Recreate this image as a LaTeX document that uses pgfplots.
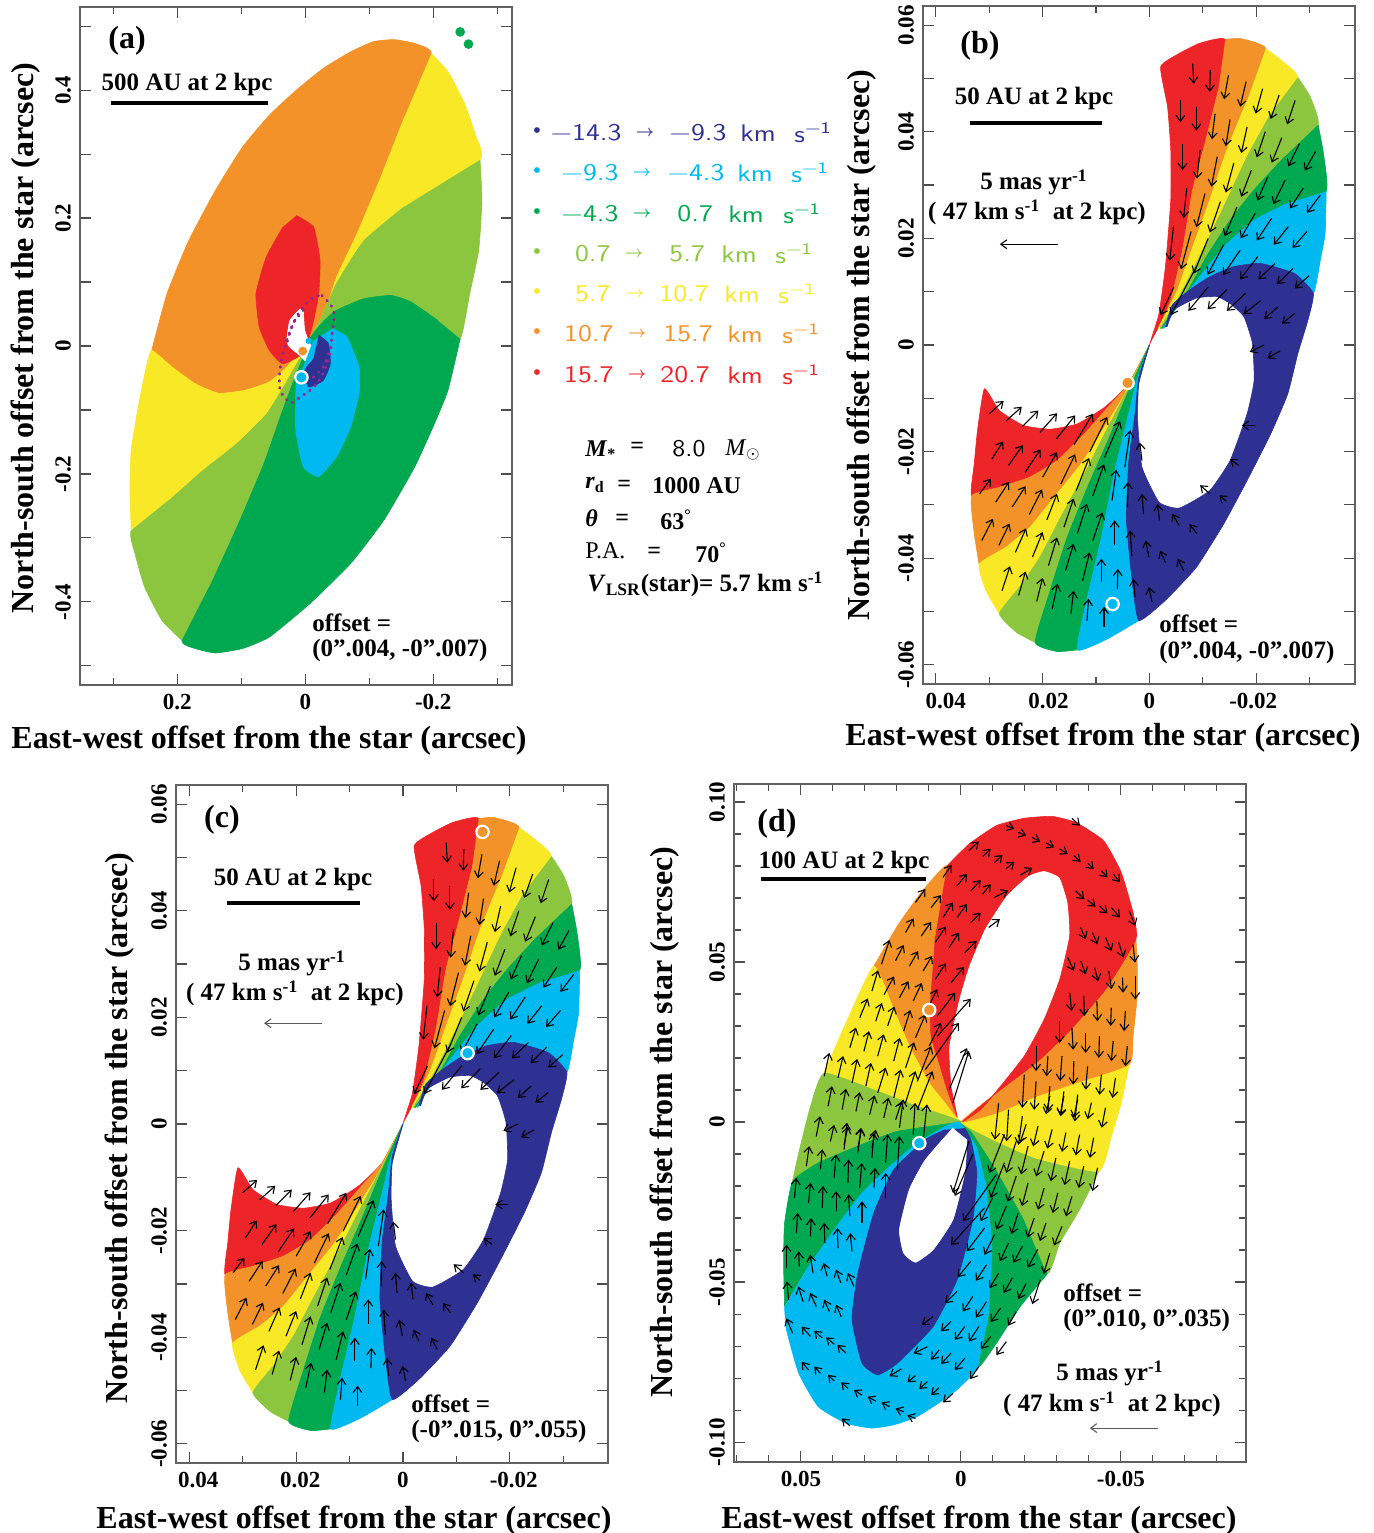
\documentclass[border=0pt]{standalone}
\usepackage{fontspec}
\setmainfont{Liberation Serif}
\usepackage{pgfplots}
\usepackage{pgfplotstable}
\pgfplotsset{compat=1.18}
\usetikzlibrary{arrows.meta}
\definecolor{cR}{HTML}{ED2528}
\definecolor{cO}{HTML}{F39229}
\definecolor{cY}{HTML}{F9E825}
\definecolor{cL}{HTML}{8CC63F}
\definecolor{cG}{HTML}{00A94F}
\definecolor{cB}{HTML}{00B9F1}
\definecolor{cN}{HTML}{2E3192}
\definecolor{cP}{HTML}{92278F}
% ---------- panel (a)
\pgfplotstableread{
.240 -.007
.216 .082
.182 .165
.140 .244
.098 .311
.056 .361
.014 .400
-.028 .434
-.071 .460
-.107 .476
-.139 .479
-.171 .473
-.197 .457
-.155 .358
-.118 .264
-.081 .176
-.049 .108
-.028 .045
-.006 .01
.029 -.033
.056 -.056
.093 -.069
.135 -.074
.172 -.059
.208 -.033
}\aO
\pgfplotstableread{
-.197 .457
-.223 .429
-.249 .379
-.265 .332
-.273 .291
-.155 .218
-.092 .165
-.049 .098
-.023 .04
-.006 .01
-.028 .045
-.049 .108
-.081 .176
-.118 .264
-.155 .358
}\aYt
\pgfplotstableread{
-.273 .291
-.276 .228
-.271 .150
-.257 .082
-.242 .011
-.207 .04
-.165 .069
-.134 .079
-.092 .074
-.049 .056
-.028 .038
-.006 .01
-.023 .04
-.049 .098
-.092 .165
-.155 .218
}\aLt
\pgfplotstableread{
-.242 .011
-.223 -.069
-.202 -.121
-.171 -.189
-.123 -.272
-.071 -.340
-.007 -.403
.056 -.455
.098 -.473
.140 -.480
.172 -.473
.193 -.460
.151 -.377
.108 -.283
.066 -.184
.040 -.110
.019 -.053
-.006 .01
-.028 .038
-.049 .056
-.092 .074
-.134 .079
-.165 .069
-.207 .04
}\aG
\pgfplotstableread{
.193 -.460
.224 -.429
.251 -.377
.266 -.325
.272 -.288
.214 -.241
.161 -.194
.108 -.152
.061 -.105
.029 -.053
-.006 .01
.019 -.053
.040 -.110
.066 -.184
.108 -.283
.151 -.377
}\aLb
\pgfplotstableread{
.272 -.288
.274 -.225
.272 -.163
.261 -.095
.250 -.04
.240 -.007
.208 -.033
.172 -.059
.135 -.074
.093 -.069
.056 -.056
.029 -.033
-.006 .01
.029 -.053
.061 -.105
.108 -.152
.161 -.194
.214 -.241
}\aYb
\pgfplotstableread{
.014 .204
-.013 .186
-.023 .134
-.021 .082
-.013 .040
-.005 .009
.003 -.012
.035 -.028
.056 -.007
.072 .030
.077 .082
.061 .139
.035 .186
}\aR
\pgfplotstableread{
.008 .058
.024 .040
.029 .009
.024 -.002
.008 -.015
-.005 -.028
-.016 -.007
-.007 .004
.001 .025
.003 .056
}\aW
\pgfplotstableread{
-.042 .027
-.065 .014
-.084 -.033
-.084 -.074
-.071 -.126
-.049 -.173
-.021 -.204
.003 -.189
.015 -.131
.014 -.053
.003 -.033
-.013 .009
}\aB
\pgfplotstableread{
-.021 .017
-.036 .004
-.039 -.028
-.028 -.054
-.005 -.064
.001 -.038
-.013 -.020
-.017 -.002
}\aN
\pgfplotstableread{
-.026 .079
-.044 .056
-.042 .019
-.036 -.022
-.018 -.059
.008 -.080
.024 -.088
.040 -.064
.035 -.012
.014 .045
-.010 .074
-.026 .079
}\aDa
% ---------- crescent of panels (b) and (c)
\pgfplotstableread{
0 0
-.0005 .0016
-.0018 .0059
-.0030 .0147
-.0040 .0272
-.0040 .0366
-.0034 .0447
-.0021 .0522
-.0056 .0547
-.0094 .0566
-.0142 .0573
-.0129 .0478
-.0104 .0378
-.0081 .0291
-.0062 .0178
-.0040 .0084
-.0018 .0034
}\bRt
\pgfplotstableread{
-.0142 .0573
-.0170 .0575
-.0218 .0556
-.0183 .0459
-.0145 .0366
-.0113 .0272
-.0081 .0184
-.0050 .0097
-.0018 .0034
-.0040 .0084
-.0062 .0178
-.0081 .0291
-.0104 .0378
-.0129 .0478
}\bOt
\pgfplotstableread{
-.0218 .0556
-.0247 .0534
-.0278 .0502
-.0227 .0434
-.0183 .0353
-.0139 .0259
-.0094 .0166
-.0056 .0091
-.0021 .0034
-.0018 .0034
-.0050 .0097
-.0081 .0184
-.0113 .0272
-.0145 .0366
-.0183 .0459
}\bYt
\pgfplotstableread{
-.0278 .0502
-.0301 .0466
-.0316 .0413
-.0253 .0353
-.0196 .0291
-.0151 .0234
-.0107 .0166
-.0069 .0097
-.0024 .0034
-.0021 .0034
-.0056 .0091
-.0094 .0166
-.0139 .0259
-.0183 .0353
-.0227 .0434
}\bLt
\pgfplotstableread{
-.0316 .0413
-.0326 .0359
-.0331 .0288
-.0259 .0266
-.0196 .0234
-.0139 .0184
-.0094 .0128
-.0056 .0078
-.0027 .0034
-.0024 .0034
-.0069 .0097
-.0107 .0166
-.0151 .0234
-.0196 .0291
-.0253 .0353
}\bGt
\pgfplotstableread{
-.0331 .0288
-.0329 .0209
-.0320 .0159
-.0307 .0097
-.0272 .0134
-.0208 .0153
-.0158 .0147
-.0113 .0128
-.0075 .0103
-.0043 .0075
-.0030 .0034
-.0027 .0034
-.0056 .0078
-.0094 .0128
-.0139 .0184
-.0196 .0234
-.0259 .0266
}\bBt
\pgfplotstableread{
-.0030 .0034
-.0043 .0075
-.0075 .0103
-.0113 .0128
-.0158 .0147
-.0208 .0153
-.0272 .0134
-.0307 .0097
-.0297 .0047
-.0278 -.0016
-.0259 -.0092
-.0227 -.0167
-.0183 -.0254
-.0139 -.0336
-.0088 -.0417
-.0030 -.0479
.0020 -.0517
.0033 -.0436
.0043 -.0329
.0039 -.0223
.0027 -.0129
.0020 -.0061
0 0
.0020 -.0073
.0022 -.0142
.0014 -.0229
-.0018 -.0295
-.0056 -.0306
-.0113 -.0273
-.0151 -.0217
-.0183 -.0129
-.0196 -.0067
-.0193 .0003
-.0177 .0053
-.0151 .0078
-.0126 .0091
-.0088 .0088
-.0046 .0066
-.0033 .0034
}\bN
\pgfplotstableread{
.0020 -.0517
.0078 -.0551
.0135 -.0572
.0116 -.0473
.0090 -.0361
.0065 -.0236
.0039 -.0129
.0024 -.0067
0 0
.0020 -.0061
.0027 -.0129
.0039 -.0223
.0043 -.0329
.0033 -.0436
}\bBb
\pgfplotstableread{
.0135 -.0572
.0173 -.0575
.0214 -.0558
.0186 -.0461
.0154 -.0361
.0116 -.0267
.0078 -.0180
.0039 -.0086
0 0
.0024 -.0067
.0039 -.0129
.0065 -.0236
.0090 -.0361
.0116 -.0473
}\bGb
\pgfplotstableread{
.0214 -.0558
.0249 -.0539
.0281 -.0504
.0243 -.0454
.0205 -.0398
.0166 -.0323
.0122 -.0242
.0084 -.0167
.0039 -.0080
0 0
.0039 -.0086
.0078 -.0180
.0116 -.0267
.0154 -.0361
.0186 -.0461
}\bLb
\pgfplotstableread{
.0281 -.0504
.0306 -.0461
.0319 -.0411
.0268 -.0379
.0224 -.0342
.0173 -.0279
.0128 -.0223
.0084 -.0154
.0046 -.0092
0 0
.0039 -.0080
.0084 -.0167
.0122 -.0242
.0166 -.0323
.0205 -.0398
.0243 -.0454
}\bYb
\pgfplotstableread{
.0319 -.0411
.0328 -.0354
.0333 -.0283
.0281 -.0267
.0224 -.0248
.0173 -.0217
.0122 -.0167
.0078 -.0117
.0039 -.0073
0 0
.0046 -.0092
.0084 -.0154
.0128 -.0223
.0173 -.0279
.0224 -.0342
.0268 -.0379
}\bOb
\pgfplotstableread{
0 0
.0039 -.0073
.0084 -.0117
.0135 -.0148
.0186 -.0158
.0236 -.0151
.0281 -.0123
.0309 -.0082
.0322 -.0161
.0328 -.0223
.0333 -.0283
.0281 -.0267
.0224 -.0248
.0173 -.0217
.0122 -.0167
.0078 -.0117
.0039 -.0073
}\bRb
\pgfplotstableread{
x y u v
-.0081 .0528 -.0002 -.0038
-.0114 .0516 .0001 -.0041
-.0148 .0506 .0008 -.0045
-.0181 .0494 .0011 -.0047
-.0212 .0481 .0013 -.0047
-.0243 .0469 .0016 -.0045
-.0273 .0459 .0015 -.0045
-.0058 .0459 0 -.0041
-.0088 .0447 0 -.0045
-.0123 .0434 .0006 -.0048
-.0151 .0423 .0008 -.0050
-.0183 .0409 .0011 -.0049
-.0217 .0400 .0016 -.0048
-.0248 .0389 .0019 -.0047
-.0281 .0378 .0021 -.0043
-.0311 .0363 .0020 -.0036
-.0062 .0378 0 -.0050
-.0095 .0366 .0006 -.0054
-.0127 .0353 .0011 -.0056
-.0158 .0341 .0015 -.0055
-.0191 .0328 .0019 -.0050
-.0222 .0316 .0020 -.0045
-.0254 .0309 .0022 -.0045
-.0288 .0294 .0025 -.0038
-.0320 .0281 .0025 -.0033
-.0070 .0294 .0006 -.0056
-.0104 .0284 .0016 -.0063
-.0133 .0269 .0020 -.0058
-.0164 .0259 .0023 -.0055
-.0198 .0247 .0027 -.0047
-.0229 .0238 .0028 -.0042
-.0260 .0222 .0027 -.0034
-.0295 .0213 .0027 -.0031
-.0045 .0222 .0007 -.0064
-.0078 .0213 .0019 -.0071
-.0110 .0200 .0027 -.0066
-.0139 .0188 .0030 -.0056
-.0170 .0178 .0032 -.0047
-.0203 .0166 .0033 -.0043
-.0235 .0153 .0031 -.0030
-.0269 .0144 .0030 -.0030
-.0299 .0130 .0027 -.0024
-.0088 .0147 .0048 -.0091
-.0110 .0109 .0037 -.0045
-.0145 .0104 .0036 -.0037
-.0180 .0097 .0035 -.0033
-.0208 .0083 .0032 -.0025
-.0240 .0071 .0025 -.0022
-.0272 .0059 .0024 -.0019
-.0215 0 .0027 -.0013
-.0245 -.0011 .0024 -.0014
-.0046 .0109 .0025 -.0053
.0300 -.0129 -.0027 .0024
.0268 -.0142 -.0029 .0026
.0238 -.0153 -.0030 .0030
.0205 -.0164 -.0032 .0036
.0174 -.0176 -.0035 .0044
.0141 -.0187 -.0035 .0058
.0112 -.0201 -.0033 .0066
.0084 -.0211 -.0029 .0068
.0046 -.0229 -.0010 .0069
.0014 -.0217 .0004 .0034
.0295 -.0214 -.0021 .0033
.0264 -.0226 -.0027 .0038
.0233 -.0239 -.0029 .0043
.0200 -.0248 -.0027 .0047
.0166 -.0261 -.0027 .0056
.0137 -.0273 -.0024 .0061
.0106 -.0283 -.0021 .0059
.0070 -.0292 -.0008 .0058
.0041 -.0304 -.0001 .0047
.0011 -.0317 .0003 .0038
-.0019 -.0329 .0004 .0031
-.0056 -.0339 .0013 .0022
-.0089 -.0354 .0014 .0018
-.0113 -.0279 .0018 .0016
-.0144 -.0293 .0013 .0011
.0318 -.0279 -.0021 .0028
.0288 -.0295 -.0025 .0038
.0257 -.0304 -.0025 .0039
.0225 -.0318 -.0024 .0047
.0192 -.0328 -.0019 .0049
.0160 -.0342 -.0018 .0054
.0135 -.0354 -.0018 .0056
.0106 -.0367 -.0018 .0053
.0065 -.0376 0 .0047
.0033 -.0395 .0003 .0047
.0001 -.0398 .0006 .0031
-.0030 -.0408 .0010 .0022
-.0064 -.0423 .0011 .0022
.0314 -.0367 -.0021 .0041
.0282 -.0376 -.0020 .0041
.0251 -.0389 -.0020 .0045
.0219 -.0398 -.0019 .0047
.0189 -.0414 -.0016 .0053
.0157 -.0423 -.0015 .0050
.0125 -.0442 -.0013 .0053
.0090 -.0445 0 .0044
.0060 -.0458 -.0001 .0038
.0027 -.0473 .0003 .0034
-.0005 -.0482 .0006 .0028
.0276 -.0461 -.0015 .0046
.0245 -.0470 -.0013 .0045
.0211 -.0481 -.0011 .0044
.0182 -.0495 -.0010 .0047
.0147 -.0504 -.0005 .0043
.0117 -.0517 -.0003 .0041
.0085 -.0529 0 .0038
-.0197 -.0151 .0024 0
-.0167 -.0226 .0016 .0012
}\bA
% ---------- panel (d)
\pgfplotstableread{
.0043 .0801
-.0025 .0868
-.0111 .0926
-.0198 .0949
-.0285 .0955
-.0359 .0936
-.0446 .0879
-.0501 .0780
-.0538 .0654
-.0547 .0571
-.0452 .0414
-.0334 .0279
-.0235 .0185
-.0111 .0091
-.0006 .0002
-.0062 .0039
-.0124 .0112
-.0198 .0206
-.0260 .0320
-.0309 .0446
-.0340 .0581
-.0334 .0686
-.0309 .0764
-.0260 .0785
-.0210 .0769
-.0142 .0707
-.0074 .0602
-.0025 .0487
.0006 .0383
.0037 .0237
.0031 .0112
.0012 .0018
.0043 .0101
.0068 .0185
.0093 .0268
.0095 .0373
.0087 .0477
.0080 .0581
}\dR
\pgfplotstableread{
.0272 .0487
.0198 .0613
.0124 .0717
.0043 .0801
.0080 .0581
.0087 .0477
.0095 .0373
.0093 .0268
.0068 .0185
.0043 .0101
.0012 .0018
.0019 .0018
.0050 .0060
.0099 .0122
.0161 .0237
.0210 .0352
}\dOl
\pgfplotstableread{
.0427 .0153
.0359 .0310
.0272 .0487
.0210 .0352
.0161 .0237
.0099 .0122
.0050 .0060
.0019 .0018
0 0
.0136 .0049
.0260 .0096
}\dYl
\pgfplotstableread{
.0526 -.0185
.0507 -.0097
.0470 .0049
.0427 .0153
.0260 .0096
.0136 .0049
0 0
.0198 -.0029
.0322 -.0075
.0446 -.0128
}\dLl
\pgfplotstableread{
.0551 -.0576
.0554 -.0441
.0551 -.0316
.0526 -.0185
.0446 -.0128
.0322 -.0075
.0198 -.0029
0 0
.0050 -.0014
.0136 -.0066
.0210 -.0128
.0309 -.0222
.0396 -.0337
.0483 -.0462
}\dGl
\pgfplotstableread{
.0551 -.0576
.0545 -.0649
.0507 -.0784
.0446 -.0889
.0359 -.0941
.0278 -.0956
.0210 -.0946
.0136 -.0920
.0025 -.0847
-.0056 -.0764
-.0087 -.0607
-.0099 -.0389
-.0080 -.0201
-.0050 -.0076
0 0
.0050 -.0014
.0136 -.0066
.0210 -.0128
.0309 -.0222
.0396 -.0337
.0483 -.0462
}\dB
\pgfplotstableread{
-.0272 -.0472
-.0186 -.0576
-.0111 -.0691
-.0056 -.0764
-.0087 -.0607
-.0099 -.0389
-.0080 -.0201
-.0050 -.0076
0 0
-.0037 -.0034
-.0111 -.0149
-.0198 -.0305
}\dGr
\pgfplotstableread{
-.0431 -.0154
-.0371 -.0274
-.0309 -.0378
-.0272 -.0472
-.0198 -.0305
-.0111 -.0149
-.0037 -.0034
0 0
-.0111 -.0060
-.0235 -.0113
}\dLr
\pgfplotstableread{
-.0526 .0180
-.0501 .0059
-.0470 -.0045
-.0431 -.0154
-.0235 -.0113
-.0111 -.0060
0 0
-.0111 .0028
-.0235 .0080
-.0359 .0122
}\dYr
\pgfplotstableread{
-.0547 .0571
-.0551 .0498
-.0551 .0394
-.0538 .0268
-.0526 .0180
-.0359 .0122
-.0235 .0080
-.0111 .0028
0 0
-.0111 .0091
-.0235 .0185
-.0334 .0279
-.0452 .0414
}\dOr
\pgfplotstableread{
.0050 -.0024
.0111 -.0055
.0210 -.0149
.0272 -.0284
.0322 -.0472
.0340 -.0618
.0309 -.0753
.0260 -.0790
.0198 -.0753
.0087 -.0639
.0012 -.0493
-.0037 -.0305
-.0050 -.0159
-.0031 -.0055
-.0012 -.0019
}\dN
\pgfplotstableread{
.0025 -.0019
.0111 -.0118
.0161 -.0211
.0192 -.0336
.0179 -.0409
.0142 -.0438
.0087 -.0399
.0025 -.0305
-.0012 -.0159
-.0019 -.0055
}\dW
\pgfplotstableread{
x y u v
-.0142 .0926 -.0025 -.0010
-.0179 .0905 -.0025 -.0010
-.0223 .0889 -.0025 -.0013
-.0266 .0872 -.0025 -.0014
-.0309 .0853 -.0025 -.0016
-.0353 .0832 -.0021 -.0019
-.0396 .0809 -.0019 -.0019
-.0439 .0785 -.0019 -.0021
-.0476 .0775 -.0021 -.0026
-.0347 .0949 -.0025 -.0023
-.0025 .0848 -.0031 .0028
-.0068 .0830 -.0025 .0023
-.0105 .0811 -.0025 .0023
-.0142 .0792 -.0025 .0021
-.0186 .0771 -.0037 .0023
.0056 .0764 -.0027 .0039
.0012 .0738 -.0031 .0037
-.0031 .0722 -.0031 .0034
-.0068 .0712 -.0025 .0031
-.0105 .0702 -.0043 .0021
.0142 .0686 -.0031 .0042
.0093 .0670 -.0031 .0039
.0056 .0639 -.0031 .0047
.0012 .0639 -.0031 .0042
-.0031 .0623 -.0031 .0031
-.0087 .0608 -.0035 .0026
.0173 .0592 -.0025 .0044
.0124 .0581 -.0031 .0044
.0080 .0561 -.0033 .0050
.0037 .0545 -.0031 .0047
-.0012 .0529 -.0037 .0037
.0248 .0493 -.0025 .0076
.0204 .0504 -.0025 .0049
.0161 .0487 -.0027 .0047
.0118 .0472 -.0028 .0047
.0080 .0446 -.0033 .0050
.0031 .0435 -.0041 .0050
.0278 .0409 -.0019 .0065
.0240 .0398 -.0031 .0057
.0192 .0388 -.0028 .0052
.0149 .0378 -.0027 .0057
.0105 .0352 -.0031 .0063
.0074 .0331 -.0056 .0073
.0316 .0326 -.0025 .0060
.0266 .0315 -.0019 .0057
.0229 .0300 -.0021 .0061
.0179 .0284 -.0021 .0066
.0142 .0263 -.0031 .0073
.0099 .0237 -.0037 .0073
.0074 .0268 -.0105 .0117
.0111 .0164 -.0105 .0146
.0037 .0101 -.0056 .0130
.0025 .0060 -.0050 .0162
.0347 .0232 -.0019 .0063
.0303 .0221 -.0016 .0063
.0260 .0206 -.0019 .0068
.0210 .0190 -.0019 .0073
.0173 .0169 -.0027 .0080
.0136 .0127 -.0043 .0110
.0427 .0143 -.0016 .0073
.0384 .0138 -.0016 .0068
.0340 .0122 -.0016 .0075
.0297 .0112 -.0016 .0073
.0260 .0091 -.0025 .0079
.0210 .0075 -.0022 .0089
.0173 .0060 -.0031 .0099
.0136 .0039 -.0047 .0120
.0415 .0049 -.0012 .0063
.0371 .0039 -.0012 .0065
.0328 .0033 -.0012 .0060
.0285 .0023 -.0015 .0060
.0241 .0013 -.0015 .0063
.0204 .0007 -.0019 .0057
.0452 -.0045 -.0012 .0063
.0408 -.0061 -.0012 .0052
.0365 -.0071 -.0012 .0057
.0322 -.0081 -.0012 .0060
.0278 -.0081 -.0012 .0057
-.0359 .0722 -.0027 -.0026
-.0396 .0694 -.0025 -.0021
-.0433 .0675 -.0025 -.0023
-.0470 .0670 -.0027 -.0031
-.0526 .0660 -.0019 -.0047
-.0374 .0608 -.0016 -.0037
-.0411 .0592 -.0016 -.0037
-.0452 .0576 -.0019 -.0042
-.0493 .0561 -.0015 -.0047
-.0538 .0555 -.0006 -.0057
-.0334 .0514 -.0019 -.0042
-.0375 .0503 -.0015 -.0042
-.0418 .0482 -.0011 -.0042
-.0462 .0472 -.0009 -.0057
-.0505 .0451 -.0002 -.0047
-.0545 .0456 0 -.0073
-.0340 .0404 -.0006 -.0057
-.0384 .0394 -.0002 -.0063
-.0425 .0378 -.0002 -.0063
-.0470 .0357 .0002 -.0057
-.0514 .0347 .0004 -.0063
-.0309 .0315 0 -.0068
-.0347 .0294 -.0004 -.0068
-.0390 .0279 0 -.0063
-.0433 .0268 .0002 -.0068
-.0476 .0253 .0006 -.0063
-.0520 .0237 .0006 -.0063
-.0235 .0237 0 -.0078
-.0272 .0206 .0004 -.0063
-.0316 .0206 .0006 -.0078
-.0353 .0190 .0002 -.0073
-.0396 .0174 .0006 -.0073
-.0439 .0148 .0006 -.0063
-.0483 .0138 .0009 -.0063
-.0198 .0148 .0006 -.0104
-.0235 .0127 .0006 -.0089
-.0278 .0112 .0006 -.0078
-.0322 .0096 .0010 -.0078
-.0365 .0086 .0009 -.0084
-.0118 .0060 .0012 -.0115
-.0149 .0039 .0006 -.0099
-.0192 .0018 .0012 -.0089
.0142 -.0926 .0025 .0010
.0179 -.0905 .0025 .0010
.0223 -.0889 .0025 .0013
.0266 -.0872 .0025 .0014
.0309 -.0853 .0025 .0016
.0353 -.0832 .0021 .0019
.0396 -.0809 .0019 .0019
.0439 -.0785 .0019 .0021
.0476 -.0775 .0021 .0026
.0347 -.0949 .0025 .0023
.0025 -.0848 .0031 -.0028
.0068 -.0830 .0025 -.0023
.0105 -.0811 .0025 -.0023
.0142 -.0792 .0025 -.0021
.0186 -.0771 .0037 -.0023
-.0056 -.0764 .0027 -.0039
-.0012 -.0738 .0031 -.0037
.0031 -.0722 .0031 -.0034
.0068 -.0712 .0025 -.0031
.0105 -.0702 .0043 -.0021
-.0142 -.0686 .0031 -.0042
-.0093 -.0670 .0031 -.0039
-.0056 -.0639 .0031 -.0047
-.0012 -.0639 .0031 -.0042
.0031 -.0623 .0031 -.0031
.0087 -.0608 .0035 -.0026
-.0173 -.0592 .0025 -.0044
-.0124 -.0581 .0031 -.0044
-.0080 -.0561 .0033 -.0050
-.0037 -.0545 .0031 -.0047
.0012 -.0529 .0037 -.0037
-.0248 -.0493 .0025 -.0076
-.0204 -.0504 .0025 -.0049
-.0161 -.0487 .0027 -.0047
-.0118 -.0472 .0028 -.0047
-.0080 -.0446 .0033 -.0050
-.0031 -.0435 .0041 -.0050
-.0278 -.0409 .0019 -.0065
-.0240 -.0398 .0031 -.0057
-.0192 -.0388 .0028 -.0052
-.0149 -.0378 .0027 -.0057
-.0105 -.0352 .0031 -.0063
-.0074 -.0331 .0056 -.0073
-.0316 -.0326 .0025 -.0060
-.0266 -.0315 .0019 -.0057
-.0229 -.0300 .0021 -.0061
-.0179 -.0284 .0021 -.0066
-.0142 -.0263 .0031 -.0073
-.0099 -.0237 .0037 -.0073
-.0074 -.0268 .0105 -.0117
-.0111 -.0164 .0105 -.0146
-.0037 -.0101 .0056 -.0130
-.0025 -.0060 .0050 -.0162
-.0347 -.0232 .0019 -.0063
-.0303 -.0221 .0016 -.0063
-.0260 -.0206 .0019 -.0068
-.0210 -.0190 .0019 -.0073
-.0173 -.0169 .0027 -.0080
-.0136 -.0127 .0043 -.0110
-.0427 -.0143 .0016 -.0073
-.0384 -.0138 .0016 -.0068
-.0340 -.0122 .0016 -.0075
-.0297 -.0112 .0016 -.0073
-.0260 -.0091 .0025 -.0079
-.0210 -.0075 .0022 -.0089
-.0173 -.0060 .0031 -.0099
-.0136 -.0039 .0047 -.0120
-.0415 -.0049 .0012 -.0063
-.0371 -.0039 .0012 -.0065
-.0328 -.0033 .0012 -.0060
-.0285 -.0023 .0015 -.0060
-.0241 -.0013 .0015 -.0063
-.0204 -.0007 .0019 -.0057
-.0452 .0045 .0012 -.0063
-.0408 .0061 .0012 -.0052
-.0365 .0071 .0012 -.0057
-.0322 .0081 .0012 -.0060
-.0278 .0081 .0012 -.0057
.0359 -.0722 .0027 .0026
.0396 -.0694 .0025 .0021
.0433 -.0675 .0025 .0023
.0470 -.0670 .0027 .0031
.0526 -.0660 .0019 .0047
.0374 -.0608 .0016 .0037
.0411 -.0592 .0016 .0037
.0452 -.0576 .0019 .0042
.0493 -.0561 .0015 .0047
.0538 -.0555 .0006 .0057
.0334 -.0514 .0019 .0042
.0375 -.0503 .0015 .0042
.0418 -.0482 .0011 .0042
.0462 -.0472 .0009 .0057
.0505 -.0451 .0002 .0047
.0545 -.0456 0 .0073
.0340 -.0404 .0006 .0057
.0384 -.0394 .0002 .0063
.0425 -.0378 .0002 .0063
.0470 -.0357 -.0002 .0057
.0514 -.0347 -.0004 .0063
.0309 -.0315 0 .0068
.0347 -.0294 .0004 .0068
.0390 -.0279 0 .0063
.0433 -.0268 -.0002 .0068
.0476 -.0253 -.0006 .0063
.0520 -.0237 -.0006 .0063
.0235 -.0237 0 .0078
.0272 -.0206 -.0004 .0063
.0316 -.0206 -.0006 .0078
.0353 -.0190 -.0002 .0073
.0396 -.0174 -.0006 .0073
.0439 -.0148 -.0006 .0063
.0483 -.0138 -.0009 .0063
.0198 -.0148 -.0006 .0104
.0235 -.0127 -.0006 .0089
.0278 -.0112 -.0006 .0078
.0322 -.0096 -.0010 .0078
.0365 -.0086 -.0009 .0084
.0118 -.0060 -.0012 .0115
.0149 -.0039 -.0006 .0099
.0192 -.0018 -.0012 .0089
}\dA
\pgfplotsset{
 panel/.style={scale only axis,x dir=reverse,tick align=inside,clip=false,scaled ticks=false,
  axis line style={draw=black!62,line width=.9pt},
  tick style={black!70,line width=.6pt},
  major tick length=5.5pt,minor tick length=3.6pt,
  tick label style={font=\fontsize{11.5}{12}\bfseries\selectfont},
  y tick label style={rotate=90,anchor=south},
  xticklabel shift=1pt,yticklabel shift=1pt,
  label style={font=\fontsize{16}{18}\bfseries\selectfont},
  xlabel={East-west offset from the star (arcsec)},
  ylabel={North-south offset from the star (arcsec)}},
 pg/.style={fill=#1,draw=#1,line width=.3pt,forget plot,smooth,tension=.28},
 qv/.style={quiver={u=\thisrow{u},v=\thisrow{v}},black,line width=.55pt,
   -{Straight Barb[length=3pt,width=4.4pt]},forget plot},
 ring/.style={only marks,mark=*,mark size=3.1pt,mark options={fill=#1,draw=white,line width=1.1pt},forget plot},
 dots/.style={cP,line width=1.5pt,line cap=round,dash pattern=on .3pt off 3.2pt,forget plot,smooth,tension=.6},
}
\newcommand{\crescent}{%
 \addplot[pg=cR] table {\bRt};
 \addplot[pg=cO] table {\bOt};
 \addplot[pg=cY] table {\bYt};
 \addplot[pg=cL] table {\bLt};
 \addplot[pg=cG] table {\bGt};
 \addplot[pg=cB] table {\bBt};
 \addplot[pg=cR] table {\bRb};
 \addplot[pg=cO] table {\bOb};
 \addplot[pg=cY] table {\bYb};
 \addplot[pg=cL] table {\bLb};
 \addplot[pg=cG] table {\bGb};
 \addplot[pg=cB] table {\bBb};
 \addplot[pg=cN] table {\bN};
 \addplot[qv] table[x=x,y=y] {\bA};
}
\newcommand{\T}[5]{\node[anchor=#1,inner sep=0pt] at (#2,{1533-#3-1.5}) {\fontsize{#4}{#4}\bfseries\selectfont #5};}
\newcommand{\Lg}[9]{%
 \node[anchor=center,text=#2] at (537,{1533-#1-1}) {\fontsize{12}{12}\selectfont\textbullet};
 \node[anchor=east,inner sep=0pt,xscale=1.18,text=#2] at (#4,{1533-#1-1}) {\fontsize{12}{12}\sffamily\selectfont #3};
 \node[anchor=center,inner sep=0pt,text=#2] at (#5,{1533-#1-1}) {\scalebox{.8}{\boldmath$\rightarrow$}};
 \node[anchor=west,inner sep=0pt,xscale=1.18,text=#2] at (#6,{1533-#1-1}) {\fontsize{12}{12}\sffamily\selectfont #7};
 \node[anchor=west,inner sep=0pt,xscale=1.18,text=#2] at (#8,{1533-#1-1}) {\fontsize{12}{12}\sffamily\selectfont km};
 \node[anchor=west,inner sep=0pt,xscale=1.18,text=#2] at (#9,{1533-#1-1}) {\fontsize{12}{12}\sffamily\selectfont s\textsuperscript{\textminus 1}};
}
\begin{document}
\begin{tikzpicture}[x=0.5pt,y=0.5pt]
\useasboundingbox (0,0) rectangle (1373,1533);
% (a)
\begin{axis}[panel,at={(40pt,424pt)},anchor=south west,width=216pt,height=339pt,
 xmin=-.323,xmax=.352,ymin=-.53,ymax=.53,
 xtick={-.2,0,.2},xticklabels={-0.2,0,0.2},minor xtick={-.3,-.1,.1,.3},
 ytick={-.5,-.4,-.3,-.2,-.1,0,.1,.2,.3,.4,.5},yticklabels={,-0.4,,-0.2,,0,,0.2,,0.4,},
 x label style={at={(axis description cs:.4375,-.0827)},anchor=center},
 y label style={at={(axis description cs:-.1250,.512)},anchor=center}]
\addplot[pg=cO] table {\aO};
\addplot[pg=cY] table {\aYt};
\addplot[pg=cL] table {\aLt};
\addplot[pg=cG] table {\aG};
\addplot[pg=cL] table {\aLb};
\addplot[pg=cY] table {\aYb};
\addplot[pg=cR] table {\aR};
\addplot[pg=white] table {\aW};
\addplot[pg=cB] table {\aB};
\addplot[pg=cN] table {\aN};
\addplot[dots] table {\aDa};
\addplot[dots] coordinates {(.003,.056) (.019,.035) (.029,.004)};
\addplot[dots] coordinates {(-.036,-.012) (-.028,-.033) (-.010,-.051)};
\addplot[only marks,mark=*,mark size=2pt,cO,forget plot] coordinates {(.004,-.008)};
\addplot[only marks,mark=*,mark size=1.3pt,cB,forget plot] coordinates {(-.005,.008)};
\addplot[ring=cB] coordinates {(.006,-.049)};
\addplot[only marks,mark=*,mark size=2.2pt,cG,forget plot] coordinates {(-.242,.491) (-.255,.472)};
\addplot[black,line width=2.4pt,forget plot] coordinates {(.303,.380) (.058,.380)};
\end{axis}
% (b)
\begin{axis}[panel,at={(461.5pt,424.5pt)},anchor=south west,width=216pt,height=339pt,
 xmin=-.0385,xmax=.0424,ymin=-.0636,ymax=.0636,
 xtick={-.02,0,.02,.04},xticklabels={{-0.02\hspace*{3pt}},0,{\hspace*{6pt}0.02},{\hspace*{10pt}0.04}},minor xtick={-.03,-.01,.01,.03},
 ytick={-.06,-.05,-.04,-.03,-.02,-.01,0,.01,.02,.03,.04,.05,.06},yticklabels={-0.06,,-0.04,,-0.02,,0,,0.02,,0.04,,0.06},
 x label style={at={(axis description cs:.4167,-.0797)},anchor=center},
 y label style={at={(axis description cs:-.1412,.5)},anchor=center}]
\crescent
\addplot[ring=cO] coordinates {(.0041,-.0071)};
\addplot[ring=cB] coordinates {(.0069,-.0486)};
\addplot[black,line width=2.2pt,forget plot] coordinates {(.0336,.0417) (.0089,.0417)};
\addplot[qv] table[x=x,y=y] {
x y u v
.0171 .0189 .0109 0
};
\end{axis}
% (c)
\begin{axis}[panel,at={(88pt,35pt)},anchor=south west,width=216pt,height=339pt,
 xmin=-.0384,xmax=.0425,ymin=-.0636,ymax=.0636,
 xtick={-.02,0,.02,.04},xticklabels={{\hspace*{4pt}-0.02},0,{\hspace*{4pt}0.02},{\hspace*{9pt}0.04}},minor xtick={-.03,-.01,.01,.03},
 ytick={-.06,-.05,-.04,-.03,-.02,-.01,0,.01,.02,.03,.04,.05,.06},yticklabels={-0.06,,-0.04,,-0.02,,0,,0.02,,0.04,,0.06},
 x label style={at={(axis description cs:.412,-.0856)},anchor=center},
 y label style={at={(axis description cs:-.1294,.494)},anchor=center}]
\crescent
\addplot[ring=cO] coordinates {(-.0149,.0548)};
\addplot[ring=cB] coordinates {(-.0121,.0133)};
\addplot[black,line width=2.2pt,forget plot] coordinates {(.0329,.0415) (.0081,.0415)};
\addplot[qv,black!65] table[x=x,y=y] {
x y u v
.0151 .0189 .0109 0
};
\end{axis}
% (d)
\begin{axis}[panel,at={(367pt,35.5pt)},anchor=south west,width=256pt,height=339pt,
 xmin=-.0891,xmax=.0709,ymin=-.1062,ymax=.1056,
 xtick={-.05,0,.05},xticklabels={-0.05,0,0.05},
 minor xtick={-.08,-.07,-.06,-.04,-.03,-.02,-.01,.01,.02,.03,.04,.06,.07},
 ytick={-.1,-.05,0,.05,.1},yticklabels={-0.10,-0.05,0,0.05,0.10},
 minor ytick={-.09,-.08,-.07,-.06,-.04,-.03,-.02,-.01,.01,.02,.03,.04,.06,.07,.08,.09},
 x label style={at={(axis description cs:.4785,-.087)},anchor=center},
 y label style={at={(axis description cs:-.1348,.5015)},anchor=center}]
\addplot[pg=cO] table {\dOl};
\addplot[pg=cY] table {\dYl};
\addplot[pg=cL] table {\dLl};
\addplot[pg=cG] table {\dGl};
\addplot[pg=cB] table {\dB};
\addplot[pg=cG] table {\dGr};
\addplot[pg=cL] table {\dLr};
\addplot[pg=cY] table {\dYr};
\addplot[pg=cO] table {\dOr};
\addplot[pg=cR] table {\dR};
\addplot[pg=cN] table {\dN};
\addplot[pg=white] table {\dW};
\addplot[qv] table[x=x,y=y] {\dA};
\addplot[ring=cO] coordinates {(.0099,.0350)};
\addplot[ring=cB] coordinates {(.0130,-.0066)};
\addplot[black,line width=2.2pt,forget plot] coordinates {(.0625,.0759) (.0109,.0759)};
\addplot[qv,black!65] table[x=x,y=y] {
x y u v
-.0616 -.0956 .0213 0
};
\end{axis}
% texts of panel (a)
\T{center}{127}{39}{16}{(a)}
\T{center}{187}{83}{12.5}{500 AU at 2 kpc}
\T{west}{312}{621}{12.5}{offset =}
\T{west}{312}{649}{12.5}{(0”.004, -0”.007)}
% texts of panel (b)
\T{center}{980}{44}{16}{(b)}
\T{center}{1034}{97}{12.5}{50 AU at 2 kpc}
\T{center}{1034}{181}{12.5}{5 mas yr\textsuperscript{-1}}
\T{center}{1037}{211}{12.5}{( 47 km s\textsuperscript{-1}\ \ at 2 kpc)}
\T{west}{1159}{622}{12.5}{offset =}
\T{west}{1159}{651}{12.5}{(0”.004, -0”.007)}
% texts of panel (c)
\T{center}{222}{818}{16}{(c)}
\T{center}{293}{878}{12.5}{50 AU at 2 kpc}
\T{center}{292}{962}{12.5}{5 mas yr\textsuperscript{-1}}
\T{center}{295}{992}{12.5}{( 47 km s\textsuperscript{-1}\ \ at 2 kpc)}
\T{west}{411}{1402}{12.5}{offset =}
\T{west}{411}{1430}{12.5}{(-0”.015, 0”.055)}
% texts of panel (d)
\T{center}{777}{822}{16}{(d)}
\T{center}{844}{861}{12.5}{100 AU at 2 kpc}
\T{west}{1063}{1291}{12.5}{offset =}
\T{west}{1063}{1319}{12.5}{(0”.010, 0”.035)}
\T{center}{1110}{1372}{12.5}{5 mas yr\textsuperscript{-1}}
\T{center}{1112}{1403}{12.5}{( 47 km s\textsuperscript{-1}\ \ at 2 kpc)}
% velocity key
\Lg{132}{cN}{\textminus 14.3}{622}{645}{669}{\textminus 9.3}{740}{794}
\Lg{172}{cB}{\textminus 9.3}{619}{642}{667}{\textminus 4.3}{737}{791}
\Lg{213}{cG}{\textminus 4.3}{619}{642}{677}{0.7}{728}{783}
\Lg{253}{cL}{0.7}{611}{634}{669}{5.7}{721}{775}
\Lg{293}{cY}{5.7}{611}{635}{659}{10.7}{724}{778}
\Lg{333}{cO}{10.7}{614}{637}{663}{15.7}{727}{782}
\Lg{374}{cR}{15.7}{614}{637}{660}{20.7}{727}{782}
% parameters
\node[anchor=west,inner sep=0pt] at (585,{1533-450}) {\fontsize{12}{12}\selectfont\textbf{\textit{M}}\textsubscript{\textbf{*}}};
\node[anchor=west,inner sep=0pt] at (630,{1533-448}) {\fontsize{12}{12}\selectfont\textbf{=}};
\node[anchor=west,inner sep=0pt,xscale=1.1] at (672,{1533-449}) {\fontsize{12}{12}\sffamily\selectfont 8.0};
\node[anchor=west,inner sep=0pt] at (725,{1533-450}) {\fontsize{12}{12}\selectfont\textit{M}$_{\odot}$};
\node[anchor=west,inner sep=0pt] at (585,{1533-485}) {\fontsize{12}{12}\bfseries\selectfont\textit{r}\textsubscript{d}};
\T{west}{617}{484}{12}{=}
\T{west}{652}{484}{12}{1000 AU}
\node[anchor=west,inner sep=0pt] at (585,{1533-518}) {\fontsize{12}{12}\bfseries\selectfont\textit{θ}};
\T{west}{615}{518}{12}{=}
\T{west}{660}{518}{12}{63\textsuperscript{°}}
\node[anchor=west,inner sep=0pt] at (585,{1533-551}) {\fontsize{12}{12}\selectfont P.A.};
\T{west}{647}{551}{12}{=}
\T{west}{695}{551}{12}{70\textsuperscript{°}}
\T{west}{587}{583}{12.5}{\textit{V}\textsubscript{LSR}(star)= 5.7 km s\textsuperscript{-1}}
\end{tikzpicture}
\end{document}
